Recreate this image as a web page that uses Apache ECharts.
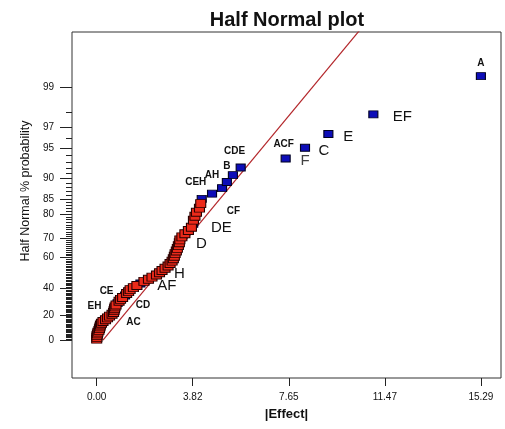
<!DOCTYPE html>
<html><head><meta charset="utf-8">
<script src="https://cdn.jsdelivr.net/npm/echarts@6/dist/echarts.min.js"></script>
<style>html,body{margin:0;padding:0;background:#fff}#c{width:505px;height:429px}</style>
</head><body><div id="c"></div>
<script>
// ---- data (sorted by |effect|, rank 1..70) ----
const effects = [0.00,0.01,0.01,0.03,0.05,0.09,0.11,0.13,0.15,0.19,
  0.25,0.35,0.43,0.51,0.61,0.67,0.69,0.71,0.73,0.77,
  0.83,0.89,0.95,1.03,1.13,1.19,1.27,1.33,1.46,1.60,
  1.74,1.88,2.06,2.20,2.38,2.50,2.60,2.72,2.84,2.92,
  3.00,3.05,3.09,3.12,3.17,3.21,3.25,3.29,3.31,3.39,
  3.51,3.65,3.77,3.84,3.85,3.91,3.97,4.09,4.14,4.18,
  4.59,4.99,5.18,5.42,5.73,7.52,8.29,9.22,11.01,15.29];
const probPct = [0.714,2.143,3.571,5.000,6.429,7.857,9.286,10.714,12.143,13.571,
  15.000,16.429,17.857,19.286,20.714,22.143,23.571,25.000,26.429,27.857,
  29.286,30.714,32.143,33.571,35.000,36.429,37.857,39.286,40.714,42.143,
  43.571,45.000,46.429,47.857,49.286,50.714,52.143,53.571,55.000,56.429,
  57.857,59.286,60.714,62.143,63.571,65.000,66.429,67.857,69.286,70.714,
  72.143,73.571,75.000,76.429,77.857,79.286,80.714,82.143,83.571,85.000,
  86.429,87.857,89.286,90.714,92.143,93.571,95.000,96.429,97.857,99.286];
const effectSign = ['+','+','+','+','+','+','+','+','+','+',
  '+','+','+','+','+','+','+','+','+','+',
  '-','+','+','+','-','+','+','+','+','+',
  '-','+','+','+','+','+','+','+','+','+',
  '+','+','+','+','+','+','+','+','+','+',
  '+','+','+','-','+','+','+','+','+','-',
  '-','-','-','-','-','-','-','-','-','-'];
const pointLabels = ['','','','','','','','','','',
  '','','AC','','','','','EH','','',
  '','CD','','CE','','','','','','',
  '','AF','','','','H','','','','',
  '','','','','','','D','','','',
  '','','DE','','','','CF','','','CEH',
  '','AH','','B','CDE','ACF','C','E','EF','A'];
const secondLabels = ['','','','','','','','','','',
  '','','','','','','','','','',
  '','','','','','','','','','',
  '','','','','','','','','','',
  '','','','','','','','','','',
  '','','','','','','','','','',
  '','','','','','','F','','',''];
const lineEffect = [0.25, 11.0];
const lineProb = [0, 99.911];
const yMajorPct = [0,20,40,60,70,80,85,90,95,97,99];
const xTickValues = [0, 3.8225, 7.645, 11.4675, 15.29];
const xTickLabels = ['0.00','3.82','7.65','11.47','15.29'];

// ---- probability scale ----
function invNorm(p){
 const a=[-3.969683028665376e+01,2.209460984245205e+02,-2.759285104469687e+02,1.383577518672690e+02,-3.066479806614716e+01,2.506628277459239e+00];
 const b=[-5.447609879822406e+01,1.615858368580409e+02,-1.556989798598866e+02,6.680131188771972e+01,-1.328068155288572e+01];
 const c=[-7.784894002430293e-03,-3.223964580411365e-01,-2.400758277161838e+00,-2.549671010115819e+00,4.374664141464968e+00,2.938163982698783e+00];
 const d=[7.784695709041462e-03,3.224671290700398e-01,2.445134137142996e+00,3.754408661907416e+00];
 const pl=0.02425, ph=1-pl; let q,r;
 if(p<pl){q=Math.sqrt(-2*Math.log(p));return (((((c[0]*q+c[1])*q+c[2])*q+c[3])*q+c[4])*q+c[5])/((((d[0]*q+d[1])*q+d[2])*q+d[3])*q+1);}
 if(p<=ph){q=p-0.5;r=q*q;return (((((a[0]*r+a[1])*r+a[2])*r+a[3])*r+a[4])*r+a[5])*q/(((((b[0]*r+b[1])*r+b[2])*r+b[3])*r+b[4])*r+1);}
 q=Math.sqrt(-2*Math.log(1-p));return -(((((c[0]*q+c[1])*q+c[2])*q+c[3])*q+c[4])*q+c[5])/((((d[0]*q+d[1])*q+d[2])*q+d[3])*q+1);
}
const hnZ = pct => invNorm(0.5 + pct/200);

// ---- styles ----
const FONT = 'Liberation Sans, Arial, sans-serif';
const labelStyle = {
  A:{offset:[0,-13],big:false}, EF:{offset:[29,2],big:true}, E:{offset:[20,3],big:true},
  C:{offset:[19,3],big:true}, F:{offset:[0,13],big:true}, ACF:{offset:[-2,-14],big:false},
  CDE:{offset:[-6,-16],big:false}, B:{offset:[-6,-9],big:false}, AH:{offset:[-10,-13],big:false},
  CEH:{offset:[-6,-17],big:false}, CF:{offset:[37,-1],big:false}, DE:{offset:[30,1],big:true},
  D:{offset:[23,-2],big:true}, H:{offset:[20,1],big:true}, AF:{offset:[23,4],big:true},
  CD:{offset:[24,4],big:false}, AC:{offset:[26,4],big:false}, CE:{offset:[-16,-6],big:false},
  EH:{offset:[-20,-3],big:false}
};
function lbl(name){
  const s = labelStyle[name];
  return {show:true, formatter:name, position:'inside', offset:s.offset,
    fontSize:s.big?15:10, fontWeight:s.big?'normal':'bold', color:'#111', fontFamily:FONT};
}
function items(sign){
  const out=[];
  effects.forEach((e,i)=>{
    if(effectSign[i]!==sign) return;
    const it={value:[e, hnZ(probPct[i])]};
    if(pointLabels[i]) it.label=lbl(pointLabels[i]);
    out.push(it);
  });
  return out;
}
const extra=[];
effects.forEach((e,i)=>{ if(secondLabels[i]) extra.push({value:[e,hnZ(probPct[i])], label:lbl(secondLabels[i])}); });

const yMajorZ = yMajorPct.map(hnZ);
const yMinorZ = [];
for(let p=1;p<=98;p++){ if(yMajorPct.indexOf(p)<0) yMinorZ.push(hnZ(p)); }
const Y_MIN=-0.387, Y_MAX=3.14, X_MIN=-0.983, X_MAX=16.09;

const chart = echarts.init(document.getElementById('c'));
chart.setOption({
  animation:false,
  backgroundColor:'#fff',
  title:{text:'Half Normal plot', left:287, textAlign:'center', top:10, padding:0,
    textStyle:{fontFamily:FONT, fontSize:20, fontWeight:'bold', color:'#111'}},
  grid:{left:72, right:4, top:32, bottom:51, show:true, borderColor:'#333', borderWidth:1, backgroundColor:'transparent'},
  xAxis:{type:'value', min:X_MIN, max:X_MAX, axisLine:{show:false, onZero:false}, splitLine:{show:false},
    axisTick:{show:true, customValues:xTickValues, length:8, lineStyle:{color:'#222'}},
    axisLabel:{customValues:xTickValues, margin:14, fontSize:10, color:'#111', fontFamily:FONT,
      formatter:(v)=>{let k=0,b=1e9;xTickValues.forEach((t,i)=>{if(Math.abs(t-v)<b){b=Math.abs(t-v);k=i;}});return xTickLabels[k];}},
    name:'|Effect|', nameLocation:'middle', nameGap:30,
    nameTextStyle:{fontSize:13, fontWeight:'bold', color:'#111', fontFamily:FONT}},
  yAxis:[{type:'value', min:Y_MIN, max:Y_MAX, position:'left', axisLine:{show:false, onZero:false}, splitLine:{show:false},
    axisTick:{show:true, customValues:yMajorZ, length:12, lineStyle:{color:'#222'}},
    axisLabel:{customValues:yMajorZ, margin:18, fontSize:10, color:'#111', fontFamily:FONT,
      formatter:(v)=>{let k=0,b=1e9;yMajorZ.forEach((t,i)=>{if(Math.abs(t-v)<b){b=Math.abs(t-v);k=i;}});return String(yMajorPct[k]);}},
    name:'Half Normal % probability', nameLocation:'middle', nameRotate:90, nameGap:36,
    nameTextStyle:{fontSize:12.5, color:'#111', fontFamily:FONT, padding:[0,0,0,28]}},
   {type:'value', min:Y_MIN, max:Y_MAX, position:'left', offset:0, axisLine:{show:false, onZero:false}, splitLine:{show:false},
    axisTick:{show:true, customValues:yMinorZ, length:6, lineStyle:{color:'#222'}},
    axisLabel:{show:false}}],
  series:[
    {type:'line', data:lineEffect.map((e,i)=>[e,hnZ(lineProb[i])]), symbol:'none', clip:true,
      lineStyle:{color:'#b3262a', width:1.2}, silent:true, z:1},
    {type:'scatter', data:items('-'), symbol:'rect', symbolSize:[9,7],
      itemStyle:{color:'#0d0db8', borderColor:'#000022', borderWidth:1, opacity:1}, z:2, silent:true},
    {type:'scatter', data:items('+'), symbol:'rect', symbolSize:[10,8],
      itemStyle:{color:'#ec2a1a', borderColor:'#2a0000', borderWidth:1, opacity:1}, z:3, silent:true},
    {type:'scatter', data:extra, symbolSize:0, z:4, silent:true}
  ]
});
</script></body></html>
